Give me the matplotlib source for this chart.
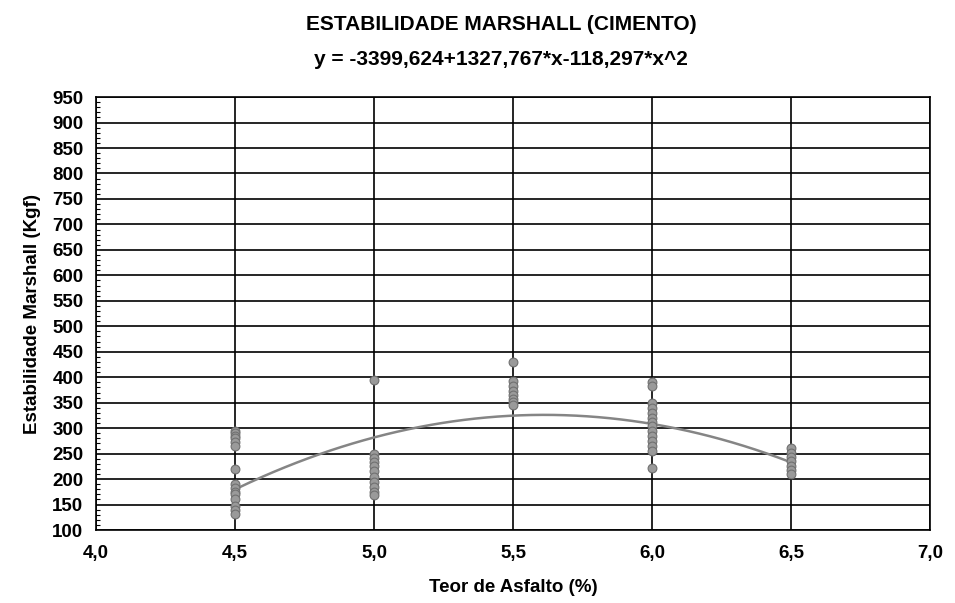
import numpy as np
import matplotlib
matplotlib.use("Agg")
import matplotlib.pyplot as plt
from matplotlib.ticker import MultipleLocator, FuncFormatter

plt.rcParams['font.family'] = ['Liberation Sans', 'DejaVu Sans']

# Data
x45 = [295, 290, 285, 280, 272, 265, 220, 190, 182, 175, 170, 160, 147, 140, 132]
x50 = [395, 250, 242, 233, 225, 215, 205, 195, 185, 175, 168]
x55 = [430, 392, 382, 372, 365, 358, 352, 345]
x60 = [390, 382, 350, 340, 330, 320, 312, 305, 295, 285, 275, 265, 255, 222]
x65 = [262, 252, 243, 235, 226, 218, 210]
teores = [4.5, 5.0, 5.5, 6.0, 6.5]
groups = [x45, x50, x55, x60, x65]
coef = [-3399.624, 1327.767, -118.297]  # from the chart's equation

fig = plt.figure(figsize=(9.55, 6.03), dpi=100)
ax = fig.add_axes([0.1005, 0.121, 0.8735, 0.718])

xc = np.linspace(teores[0], teores[-1], 200)
yc = coef[0] + coef[1] * xc + coef[2] * xc ** 2
ax.plot(xc, yc, color='#858585', lw=1.8, zorder=3)

for t, g in zip(teores, groups):
    ax.scatter([t] * len(g), g, s=40, facecolor='#9a9a9a', edgecolor='#707070',
               linewidths=0.8, zorder=4)

ax.set_xlim(4.0, 7.0)
ax.set_ylim(100, 950)
ax.xaxis.set_major_locator(MultipleLocator(0.5))
ax.yaxis.set_major_locator(MultipleLocator(50))
ax.yaxis.set_minor_locator(MultipleLocator(10))
ax.xaxis.set_major_formatter(FuncFormatter(lambda v, p: f"{v:.1f}".replace('.', ',')))
ax.grid(True, which='major', color='black', lw=1.2)
ax.set_axisbelow(True)
ax.tick_params(axis='both', which='major', length=0, labelsize=13.5)
ax.tick_params(axis='x', which='major', pad=11)
ax.tick_params(axis='y', which='major', pad=9)
ax.tick_params(axis='y', which='minor', direction='in', length=3, width=0.8)
for lab in ax.get_xticklabels() + ax.get_yticklabels():
    lab.set_fontweight('bold')
for s in ax.spines.values():
    s.set_linewidth(1.2)

ax.set_xlabel('Teor de Asfalto (%)', fontsize=13.5, fontweight='bold', labelpad=12)
ax.set_ylabel('Estabilidade Marshall (Kgf)', fontsize=13.5, fontweight='bold', labelpad=8)
fig.text(0.525, 0.960, 'ESTABILIDADE MARSHALL (CIMENTO)', ha='center', va='center',
         fontsize=15, fontweight='bold')
fig.text(0.525, 0.902, 'y = -3399,624+1327,767*x-118,297*x^2', ha='center', va='center',
         fontsize=15, fontweight='bold')

fig.savefig('out.png', dpi=100)
